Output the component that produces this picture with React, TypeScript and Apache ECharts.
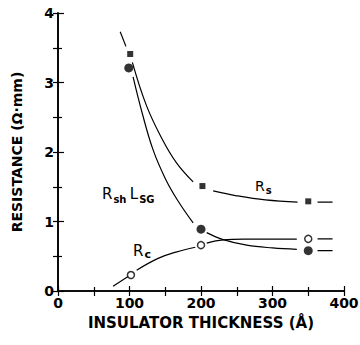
import React, { useEffect, useRef } from "react";
import * as echarts from "echarts";

// Marker data (thickness in Å, resistance in Ω·mm)
const rsMarkers = [[101, 3.41], [202, 1.51], [350, 1.29]];
const rshMarkers = [[99, 3.21], [200, 0.89], [350, 0.58]];
const rcMarkers = [[102, 0.23], [200, 0.66], [350, 0.75]];

// Hand-drawn guide curves (segments, gaps around markers)
const rsCurve = [
  [[87, 3.73], [95, 3.52]],
  [[104, 3.29], [124, 2.66], [146, 2.18], [166, 1.84], [189, 1.57]],
  [[217, 1.44], [250, 1.37], [290, 1.31], [335, 1.28]],
  [[363, 1.28], [384, 1.28]],
];
const rshCurve = [
  [[105, 3.08], [118, 2.55], [133, 2.03], [150, 1.62], [167, 1.31], [189, 0.98]],
  [[208, 0.84], [231, 0.74], [264, 0.66], [300, 0.62], [334, 0.6]],
  [[363, 0.58], [384, 0.58]],
];
const rcCurve = [
  [[77, 0.07], [98, 0.21]],
  [[110, 0.3], [140, 0.47], [165, 0.56], [192, 0.63]],
  [[208, 0.69], [231, 0.735], [260, 0.745], [300, 0.745], [334, 0.745]],
  [[363, 0.75], [384, 0.75]],
];

const xTitle = "INSULATOR THICKNESS (Å)";
const yTitle = "RESISTANCE (Ω·mm)";

const FONT = "DejaVu Sans";

export default function App() {
  const ref = useRef<HTMLDivElement>(null);
  useEffect(() => {
    if (!ref.current) return;
    document.body.style.margin = "0";
    const chart = echarts.init(ref.current, undefined, { renderer: "svg" });
    const lineSeries = (segs: number[][][]) =>
      segs.map((d) => ({
        type: "line",
        data: d,
        smooth: 0.4,
        symbol: "none",
        lineStyle: { color: "#000", width: 1.2 },
        silent: true,
      }));
    const axisLine = { show: true, lineStyle: { color: "#000", width: 1.6 } };
    const labelStyle = { color: "#000", fontFamily: FONT, fontWeight: "bold", fontSize: 14 };
    const option: any = {
      animation: false,
      grid: { left: 58, right: 16, top: 13, bottom: 54, containLabel: false, outerBoundsMode: "none" },
      xAxis: [
        {
          type: "value", min: 0, max: 400, interval: 100, position: "bottom",
          axisLine, splitLine: { show: false },
          axisTick: { inside: true, length: 5, lineStyle: { color: "#000", width: 1.2 } },
          minorTick: { show: true, splitNumber: 2, length: 4, lineStyle: { color: "#000", width: 1.2 } },
          axisLabel: { ...labelStyle, margin: 5 },
          name: xTitle, nameLocation: "middle", nameGap: 24,
          nameTextStyle: { ...labelStyle, fontSize: 15 },
        },
        {
          type: "value", min: 0, max: 400, interval: 50, position: "top",
          axisLine, splitLine: { show: false },
          axisTick: { inside: true, length: 5, lineStyle: { color: "#000", width: 1.2 } },
          axisLabel: { show: false },
        },
      ],
      yAxis: [
        {
          type: "value", min: 0, max: 4, interval: 1, position: "left",
          axisLine, splitLine: { show: false },
          axisTick: { inside: true, length: 6, lineStyle: { color: "#000", width: 1.2 } },
          minorTick: { show: true, splitNumber: 2, length: 4, lineStyle: { color: "#000", width: 1.2 } },
          axisLabel: { ...labelStyle, margin: 4 },
          name: yTitle, nameLocation: "middle", nameGap: 34, nameRotate: 90,
          nameTextStyle: { ...labelStyle, fontSize: 14 },
        },
        {
          type: "value", min: 0, max: 4, interval: 0.5, position: "right",
          axisLine, splitLine: { show: false },
          axisTick: { inside: true, length: 5, lineStyle: { color: "#000", width: 1.2 } },
          axisLabel: { show: false },
        },
      ],
      series: [
        ...lineSeries(rsCurve),
        ...lineSeries(rshCurve),
        ...lineSeries(rcCurve),
        {
          type: "scatter", data: rsMarkers, symbol: "rect", symbolSize: 6,
          itemStyle: { color: "#000" },
        },
        {
          type: "scatter", data: rshMarkers, symbol: "circle", symbolSize: 9,
          itemStyle: { color: "#000" },
        },
        {
          type: "scatter", data: rcMarkers, symbol: "circle", symbolSize: 7,
          itemStyle: { color: "#fff", borderColor: "#000", borderWidth: 1.5 },
        },
      ],
      graphic: [
        {
          type: "text", left: 102, top: 184,
          style: {
            text: "{r|R}{s|sh} {r|L}{s|SG}",
            rich: {
              r: { fontFamily: FONT, fontSize: 15, fill: "#000", lineHeight: 18, verticalAlign: "top" },
              s: { fontFamily: FONT, fontSize: 10, fontWeight: "bold", fill: "#000", lineHeight: 10, verticalAlign: "bottom", padding: [10, 0, 0, 1] },
            },
          },
        },
        {
          type: "text", left: 255, top: 177,
          style: {
            text: "{r|R}{s|s}",
            rich: {
              r: { fontFamily: FONT, fontSize: 14, fill: "#000", lineHeight: 18 },
              s: { fontFamily: FONT, fontSize: 10, fontWeight: "bold", fill: "#000", lineHeight: 10, padding: [8, 0, 0, 1] },
            },
          },
        },
        {
          type: "text", left: 133, top: 241,
          style: {
            text: "{r|R}{s|c}",
            rich: {
              r: { fontFamily: FONT, fontSize: 15, fill: "#000", lineHeight: 18 },
              s: { fontFamily: FONT, fontSize: 11, fontWeight: "bold", fill: "#000", lineHeight: 10, padding: [8, 0, 0, 1] },
            },
          },
        },
      ],
    };
    chart.setOption(option);
    return () => chart.dispose();
  }, []);
  return <div ref={ref} style={{ width: 360, height: 345 }} />;
}
